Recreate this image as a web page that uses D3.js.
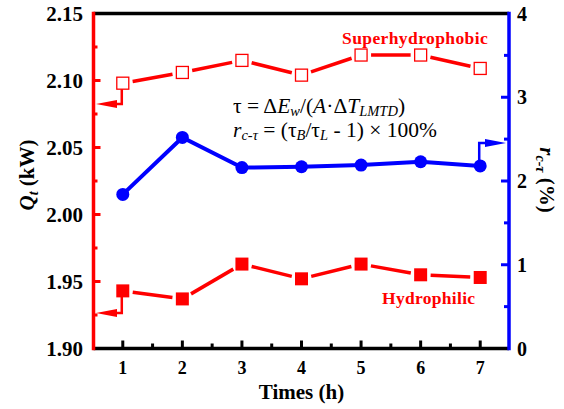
<!DOCTYPE html>
<html>
<head>
<meta charset="utf-8">
<script src="https://cdn.jsdelivr.net/npm/d3@7"></script>
<style>
  body { margin: 0; background: #fff; }
  text { font-family: "Liberation Serif", "Times New Roman", serif; }
</style>
</head>
<body>
<script>
const width = 564;
const height = 409;

// data
const times = [1, 2, 3, 4, 5, 6, 7];
const superhydrophobic = [2.098, 2.106, 2.115, 2.104, 2.119, 2.119, 2.109];
const hydrophilic = [1.943, 1.937, 1.963, 1.952, 1.963, 1.955, 1.953];
const rct = [1.84, 2.52, 2.16, 2.17, 2.19, 2.23, 2.18];
const qTicks = [1.90, 1.95, 2.00, 2.05, 2.10, 2.15];
const rTicks = [0, 1, 2, 3, 4];

const plotL = 93.5, plotR = 509, plotT = 13.5, plotB = 348.5;

const svg = d3.select('body')
    .append('svg')
    .attr('width', width)
    .attr('height', height);

const x = d3.scaleLinear().domain([0.5, 7.5]).range([93, 510]);
const yQ = d3.scaleLinear().domain([1.90, 2.15]).range([plotB, plotT]);
const yR = d3.scaleLinear().domain([0, 4]).range([plotB, plotT]);

// ticks (inward)
const g = svg.append('g');
// bottom
times.forEach(t => g.append('line').attr('x1', x(t)).attr('x2', x(t))
    .attr('y1', plotB).attr('y2', plotB - 8).attr('stroke', '#000').attr('stroke-width', 3));
d3.range(1.5, 7.5, 1).forEach(t => g.append('line').attr('x1', x(t)).attr('x2', x(t))
    .attr('y1', plotB).attr('y2', plotB - 5).attr('stroke', '#000').attr('stroke-width', 3));
// left
qTicks.forEach(v => g.append('line').attr('x1', plotL).attr('x2', plotL + 7)
    .attr('y1', yQ(v)).attr('y2', yQ(v)).attr('stroke', 'red').attr('stroke-width', 3));
d3.range(1.925, 2.15, 0.05).forEach(v => g.append('line').attr('x1', plotL).attr('x2', plotL + 4)
    .attr('y1', yQ(v)).attr('y2', yQ(v)).attr('stroke', 'red').attr('stroke-width', 3));
// right
rTicks.forEach(v => g.append('line').attr('x1', plotR).attr('x2', plotR - 8)
    .attr('y1', yR(v)).attr('y2', yR(v)).attr('stroke', 'blue').attr('stroke-width', 3));
d3.range(0.5, 4, 1).forEach(v => g.append('line').attr('x1', plotR).attr('x2', plotR - 5)
    .attr('y1', yR(v)).attr('y2', yR(v)).attr('stroke', 'blue').attr('stroke-width', 3));

// frame
svg.append('line').attr('x1', plotL).attr('x2', plotR).attr('y1', plotT).attr('y2', plotT)
    .attr('stroke', '#000').attr('stroke-width', 3.5);
svg.append('line').attr('x1', plotL).attr('x2', plotR).attr('y1', plotB).attr('y2', plotB)
    .attr('stroke', '#000').attr('stroke-width', 3.5);
svg.append('line').attr('x1', plotR).attr('x2', plotR).attr('y1', plotT - 1.7).attr('y2', plotB + 1.7)
    .attr('stroke', 'blue').attr('stroke-width', 3.5);
svg.append('line').attr('x1', plotL).attr('x2', plotL).attr('y1', plotT - 1.7).attr('y2', plotB + 1.7)
    .attr('stroke', 'red').attr('stroke-width', 3.5);

// tick labels
svg.append('g').selectAll('text').data(qTicks).enter().append('text')
    .attr('x', 83).attr('y', d => yQ(d)).attr('dy', '0.35em')
    .attr('text-anchor', 'end').attr('font-size', 21).attr('font-weight', 'bold')
    .text(d => d.toFixed(2));
svg.append('g').selectAll('text').data(times).enter().append('text')
    .attr('x', d => x(d)).attr('y', 374)
    .attr('text-anchor', 'middle').attr('font-size', 18).attr('font-weight', 'bold')
    .text(d => d);
svg.append('g').selectAll('text').data(rTicks).enter().append('text')
    .attr('x', 517).attr('y', d => yR(d)).attr('dy', '0.35em')
    .attr('font-size', 20).attr('font-weight', 'bold')
    .text(d => d);

// axis titles
svg.append('text').attr('x', x(4)).attr('y', 399).attr('text-anchor', 'middle')
    .attr('font-size', 21).attr('font-weight', 'bold').text('Times (h)');

const yt = svg.append('text').attr('transform', 'translate(34,175) rotate(-90)')
    .attr('text-anchor', 'middle').attr('font-size', 21).attr('font-weight', 'bold');
yt.append('tspan').attr('font-style', 'italic').text('Q');
yt.append('tspan').attr('font-style', 'italic').attr('font-size', 14).attr('dy', 4).text('t');
yt.append('tspan').attr('dy', -4).text(' (kW)');

const rt = svg.append('text').attr('transform', 'translate(540,180) rotate(90)')
    .attr('text-anchor', 'middle').attr('font-size', 21).attr('font-weight', 'bold');
rt.append('tspan').attr('font-style', 'italic').text('r');
rt.append('tspan').attr('font-style', 'italic').attr('font-size', 14).attr('dy', 4).text('c-τ');
rt.append('tspan').attr('dy', -4).text(' (%)');

// red lines with gaps at markers
const gapLine = (vals, gap) => {
    const pts = times.map((t, i) => [x(t), yQ(vals[i])]);
    d3.pairs(pts).forEach(([a, b]) => {
        const dx = b[0] - a[0], dy = b[1] - a[1];
        const len = Math.hypot(dx, dy);
        const ux = dx / len, uy = dy / len;
        svg.append('line')
            .attr('x1', a[0] + ux * gap).attr('y1', a[1] + uy * gap)
            .attr('x2', b[0] - ux * gap).attr('y2', b[1] - uy * gap)
            .attr('stroke', 'red').attr('stroke-width', 3.5);
    });
};
gapLine(superhydrophobic, 10);
gapLine(hydrophilic, 10);

svg.append('g').selectAll('rect').data(superhydrophobic).enter().append('rect')
    .attr('x', (d, i) => x(times[i]) - 6).attr('y', d => yQ(d) - 6)
    .attr('width', 12).attr('height', 12)
    .attr('fill', '#fff').attr('stroke', 'red').attr('stroke-width', 1.3);
svg.append('g').selectAll('rect').data(hydrophilic).enter().append('rect')
    .attr('x', (d, i) => x(times[i]) - 6.5).attr('y', d => yQ(d) - 6.5)
    .attr('width', 13).attr('height', 13)
    .attr('fill', 'red');

// blue series
svg.append('path').datum(rct)
    .attr('d', d3.line().x((d, i) => x(times[i])).y(d => yR(d)))
    .attr('fill', 'none').attr('stroke', 'blue').attr('stroke-width', 4);
svg.append('g').selectAll('circle').data(rct).enter().append('circle')
    .attr('cx', (d, i) => x(times[i])).attr('cy', d => yR(d)).attr('r', 6.5)
    .attr('fill', 'blue');

// arrows pointing to axes
const arrow = (x0, y0, yTurn, tipX, color) => {
    const dir = Math.sign(tipX - x0);
    const baseX = tipX - dir * 21;
    svg.append('path')
        .attr('d', `M${x0},${y0}V${yTurn}H${baseX}`)
        .attr('fill', 'none').attr('stroke', color).attr('stroke-width', 2.5);
    svg.append('path')
        .attr('d', `M${tipX},${yTurn}L${baseX},${yTurn - 4}L${baseX},${yTurn + 4}Z`)
        .attr('fill', color);
};
arrow(x(1) - 1, yQ(superhydrophobic[0]) + 6, 104, 96, 'red');
arrow(x(1) - 1, yQ(hydrophilic[0]) + 6, 313, 96, 'red');
arrow(x(7) - 1, yR(rct[6]) - 6, 143, 506, 'blue');

// series labels
svg.append('text').attr('x', 342).attr('y', 44).attr('font-size', 17.5)
    .attr('letter-spacing', 0.4)
    .attr('font-weight', 'bold').attr('fill', 'red').text('Superhydrophobic');
svg.append('text').attr('x', 382).attr('y', 304).attr('font-size', 17.5)
    .attr('letter-spacing', 0.3)
    .attr('font-weight', 'bold').attr('fill', 'red').text('Hydrophilic');

// formulas
const f1 = svg.append('text').attr('x', 233).attr('y', 113).attr('font-size', 21.5);
f1.append('tspan').text('τ = Δ');
f1.append('tspan').attr('font-style', 'italic').text('E');
f1.append('tspan').attr('font-style', 'italic').attr('font-size', 14.5).attr('dy', 3).text('w');
f1.append('tspan').attr('dy', -3).text('/(');
f1.append('tspan').attr('font-style', 'italic').text('A');
f1.append('tspan').text('·Δ');
f1.append('tspan').attr('font-style', 'italic').text('T');
f1.append('tspan').attr('font-style', 'italic').attr('font-size', 14.5).attr('dy', 3).text('LMTD');
f1.append('tspan').attr('dy', -3).text(')');

const f2 = svg.append('text').attr('x', 233).attr('y', 137).attr('font-size', 21.5);
f2.append('tspan').attr('font-style', 'italic').text('r');
f2.append('tspan').attr('font-style', 'italic').attr('font-size', 14.5).attr('dy', 3).text('c-τ');
f2.append('tspan').attr('dy', -3).text(' = (τ');
f2.append('tspan').attr('font-style', 'italic').attr('font-size', 14.5).attr('dy', 3).text('B');
f2.append('tspan').attr('dy', -3).text('/τ');
f2.append('tspan').attr('font-style', 'italic').attr('font-size', 14.5).attr('dy', 3).text('L');
f2.append('tspan').attr('dy', -3).text(' - 1) × 100%');
</script>
</body>
</html>
